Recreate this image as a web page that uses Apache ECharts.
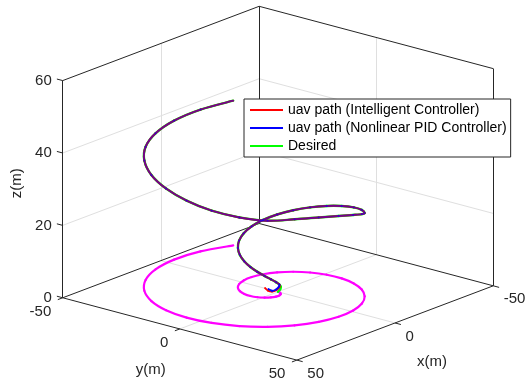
<!DOCTYPE html>
<html>
<head>
<meta charset="utf-8">
<script src="https://cdn.jsdelivr.net/npm/echarts@6/dist/echarts.min.js"></script>
<style>
  html, body { margin: 0; padding: 0; background: #ffffff; }
  #chart { width: 527px; height: 380px; }
</style>
</head>
<body>
<div id="chart"></div>
<script>
// ---- axis limits and ticks (m) ----
const X_LIM = [-50, 50];
const Y_LIM = [-50, 50];
const Z_LIM = [0, 60];
const X_TICKS = [-50, 0, 50];
const Y_TICKS = [-50, 0, 50];
const Z_TICKS = [0, 20, 40, 60];

// ---- desired conical spiral, sampled every 0.25 s (m) ----
const desiredX = [0, 0.31, 1.20, 2.56, 4.21, 5.93, 7.48, 8.61, 9.09, 8.75, 7.48, 5.25, 2.12, -1.76, -6.14,
  -10.72, -15.14, -19.02, -21.99, -23.73, -23.97, -22.55, -19.40, -14.61, -8.38, -1.04, 6.99, 15.19, 23.00,
  29.84, 35.18, 38.54, 39.58, 38.07, 33.94, 27.33, 18.54, 8.06, -3.57, -15.58, -27.20];
const desiredY = [0, 1.21, 2.19, 2.74, 2.70, 1.97, 0.53, -1.56, -4.16, -7.07, -10.01, -12.71, -14.85, -16.15,
  -16.39, -15.39, -13.07, -9.48, -4.74, 0.89, 7.09, 13.44, 19.49, 24.76, 28.81, 31.23, 31.74, 30.14, 26.39,
  20.59, 13.00, 4.01, -5.82, -15.89, -25.59, -34.16, -41.00, -45.54, -47.37, -46.20, -41.96];
const desiredZ = [0, 1, 2, 3, 4, 5, 6, 7, 8, 9, 10, 11, 12, 13, 14, 15, 16, 17, 18, 19, 20, 21, 22, 23, 24.7,
  26.4, 27.85, 28.85, 29.3, 29.3, 30, 31, 32.3, 33.6, 34.8, 36, 36.8, 37.6, 38.4, 39.2, 40];

// ---- take-off transients of the two controllers before they lock on ----
const intelligentStartX = [-0.20, 2.00, 2.75, 1.75, 1.03];
const intelligentStartY = [-5.70, -2.60, -0.26, 0.83, 1.51];
const intelligentStartZ = [0.00, 0.30, 0.60, 1.00, 1.80];
const pidStartX = [-0.17, 1.63, 1.18, 0.45];
const pidStartY = [-4.20, -1.19, 0.14, 0.81];
const pidStartZ = [0.00, 0.40, 0.90, 1.70];
const JOIN_INDEX = 3;   // reference sample from which both paths coincide with it

const NAMES = ['uav path (Intelligent Controller)', 'uav path (Nonlinear PID Controller)', 'Desired'];

// ---- orthographic camera, view(130, 18.5) ----
const VIEW_AZ = 130 * Math.PI / 180;
const VIEW_EL = 18.5 * Math.PI / 180;
const K_XY = 3.056;   // px per metre, horizontal axes
const K_Z = 3.817;    // px per metre, vertical axis
function project(x, y, z) {
  const u = (Math.cos(VIEW_AZ) * x + Math.sin(VIEW_AZ) * y) * K_XY;
  const v = (-Math.sin(VIEW_EL) * Math.sin(VIEW_AZ) * x + Math.sin(VIEW_EL) * Math.cos(VIEW_AZ) * y) * K_XY
            + Math.cos(VIEW_EL) * z * K_Z;
  return [u, v];
}

function track(xs, ys, zs) {
  return xs.map((x, i) => project(x, ys[i], zs[i]));
}
const intelligentPath = track(
  intelligentStartX.concat(desiredX.slice(JOIN_INDEX)),
  intelligentStartY.concat(desiredY.slice(JOIN_INDEX)),
  intelligentStartZ.concat(desiredZ.slice(JOIN_INDEX)));
const pidPath = track(
  pidStartX.concat(desiredX.slice(JOIN_INDEX)),
  pidStartY.concat(desiredY.slice(JOIN_INDEX)),
  pidStartZ.concat(desiredZ.slice(JOIN_INDEX)));
const desiredPath = track(desiredX, desiredY, desiredZ);
const groundTrack = track(desiredX, desiredY, desiredX.map(() => 0));

// ---- axes box, grid and tick marks ----
const [x0, x1] = X_LIM, [y0, y1] = Y_LIM, [z0, z1] = Z_LIM;
const boxEdges = [
  [[x1, y0, z0], [x0, y0, z0]], [[x0, y0, z0], [x0, y1, z0]],
  [[x1, y0, z0], [x1, y1, z0]], [[x1, y1, z0], [x0, y1, z0]],
  [[x1, y0, z0], [x1, y0, z1]], [[x0, y0, z0], [x0, y0, z1]], [[x0, y1, z0], [x0, y1, z1]],
  [[x1, y0, z1], [x0, y0, z1]], [[x0, y0, z1], [x0, y1, z1]]
];
const gridEdges = [];
X_TICKS.filter(t => t > x0 && t < x1).forEach(t => {
  gridEdges.push([[t, y0, z0], [t, y0, z1]], [[t, y0, z0], [t, y1, z0]]);
});
Y_TICKS.filter(t => t > y0 && t < y1).forEach(t => {
  gridEdges.push([[x0, t, z0], [x0, t, z1]], [[x1, t, z0], [x0, t, z0]]);
});
Z_TICKS.filter(t => t > z0 && t < z1).forEach(t => {
  gridEdges.push([[x1, y0, t], [x0, y0, t]], [[x0, y0, t], [x0, y1, t]]);
});
const TICK_LEN = 2.5;
const tickEdges = [];
X_TICKS.forEach(t => tickEdges.push([[t, y1, z0], [t, y1 + TICK_LEN, z0]]));
Y_TICKS.forEach(t => tickEdges.push([[x1, t, z0], [x1 + TICK_LEN, t, z0]]));
Z_TICKS.forEach(t => tickEdges.push([[x1, y0, t], [x1, y0 - TICK_LEN, t]]));

function segments(list) {
  return list.map(([a, b]) => ({ coords: [project(a[0], a[1], a[2]), project(b[0], b[1], b[2])] }));
}

// ---- text: tick labels and axis names ----
const FONT = '"Liberation Sans", Arial, Helvetica, sans-serif';
const texts = [];
Z_TICKS.forEach(t => texts.push({ p: project(x1, y0, t), text: String(t), dx: -11, dy: 0, align: 'right' }));
Y_TICKS.forEach(t => texts.push({ p: project(x1, t, z0), text: String(t), dx: -11.5, dy: 14, align: 'right' }));
X_TICKS.forEach(t => texts.push({ p: project(t, y1, z0), text: String(t), dx: 10.5, dy: 13.5, align: 'left' }));
texts.push({ p: project(x1, (y0 + y1) / 2, z0), text: 'y(m)', dx: -29, dy: 41, align: 'center' });
texts.push({ p: project((x0 + x1) / 2, y1, z0), text: 'x(m)', dx: 37, dy: 39, align: 'center' });
texts.push({ p: project(x1, y0, (z0 + z1) / 2), text: 'z(m)', dx: -46, dy: -6, align: 'center', rot: Math.PI / 2 });

// A trajectory drawn as a chain of Catmull-Rom Bezier segments between its samples.
function curveSeries(name, path, color, width, z, blendFrom, blendOpacity) {
  return {
    name, type: 'custom', coordinateSystem: 'cartesian2d', silent: true, z,
    itemStyle: { color },
    data: path,
    renderItem: (params, api) => {
      const i = params.dataIndex, n = path.length;
      if (i >= n - 1) return null;
      const p0 = api.coord(path[Math.max(i - 1, 0)]);
      const p1 = api.coord(path[i]);
      const p2 = api.coord(path[i + 1]);
      const p3 = api.coord(path[Math.min(i + 2, n - 1)]);
      return {
        type: 'bezierCurve',
        shape: {
          x1: p1[0], y1: p1[1], x2: p2[0], y2: p2[1],
          cpx1: p1[0] + (p2[0] - p0[0]) / 6, cpy1: p1[1] + (p2[1] - p0[1]) / 6,
          cpx2: p2[0] - (p3[0] - p1[0]) / 6, cpy2: p2[1] - (p3[1] - p1[1]) / 6
        },
        style: { stroke: color, fill: null, lineWidth: width, lineCap: 'round',
                 opacity: (blendFrom != null && i >= blendFrom) ? blendOpacity : 1 }
      };
    }
  };
}

const chart = echarts.init(document.getElementById('chart'), null, { renderer: 'canvas' });
const option = {
  animation: false,
  backgroundColor: '#ffffff',
  grid: { left: 0, right: 0, top: 0, bottom: 0, containLabel: false },
  xAxis: { type: 'value', min: -278, max: 249, show: false },
  yAxis: { type: 'value', min: -88.2, max: 291.8, show: false },
  legend: {
    data: NAMES, orient: 'vertical', left: 244, top: 99,
    padding: [4, 4, 4, 6], itemGap: 4, itemWidth: 33, itemHeight: 2, icon: 'rect',
    backgroundColor: '#ffffff', borderColor: '#262626', borderWidth: 1, borderRadius: 0,
    selectedMode: false,
    textStyle: { fontSize: 14, fontFamily: FONT, color: '#000000' }
  },
  series: [
    { type: 'lines', coordinateSystem: 'cartesian2d', data: segments(gridEdges), silent: true, z: 1,
      lineStyle: { color: '#dfdfdf', width: 1, opacity: 1 } },
    { type: 'lines', coordinateSystem: 'cartesian2d', data: segments(boxEdges.concat(tickEdges)), silent: true, z: 1,
      lineStyle: { color: '#262626', width: 1, opacity: 1 } },
    curveSeries('ground track', groundTrack, '#ff00ff', 2.2, 2),
    curveSeries(NAMES[2], desiredPath, '#00ff00', 2.4, 3),
    curveSeries(NAMES[0], intelligentPath, '#ff0000', 1.9, 3),
    curveSeries(NAMES[1], pidPath, '#0000ff', 1.9, 3, JOIN_INDEX + 1, 0.55),
    {
      type: 'custom', coordinateSystem: 'cartesian2d', silent: true, z: 5,
      data: texts.map(t => t.p),
      renderItem: (params, api) => {
        const t = texts[params.dataIndex];
        const pt = api.coord([api.value(0), api.value(1)]);
        return {
          type: 'text', x: pt[0] + t.dx, y: pt[1] + t.dy, rotation: t.rot || 0,
          style: { text: t.text, fill: '#262626', fontSize: 15, fontFamily: FONT,
                   align: t.align, verticalAlign: 'middle' }
        };
      }
    }
  ]
};
chart.setOption(option);
</script>
</body>
</html>
